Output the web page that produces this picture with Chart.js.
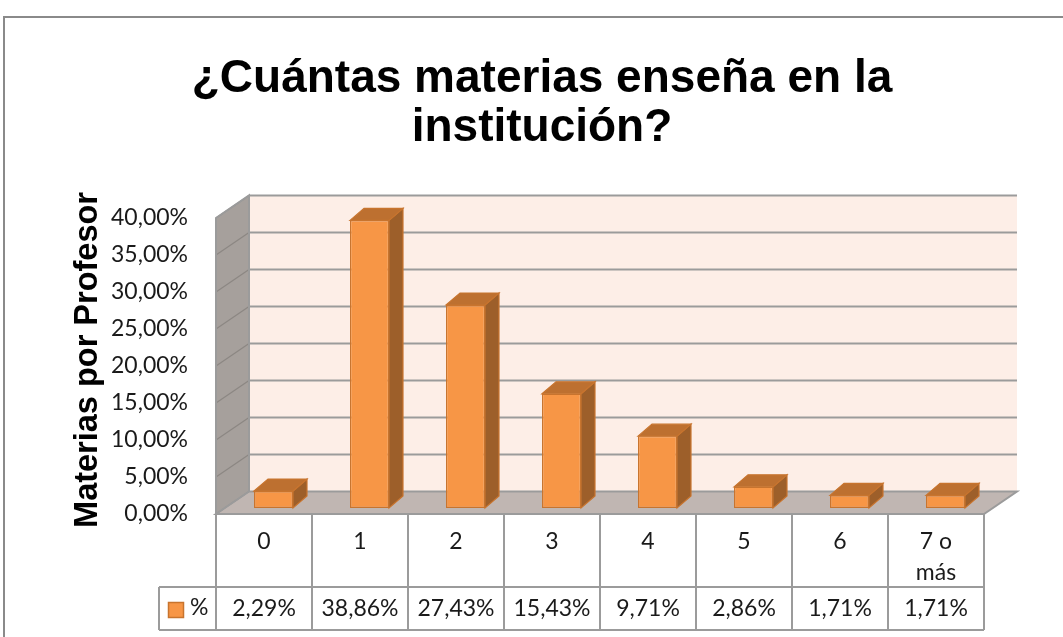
<!DOCTYPE html>
<html>
<head>
<meta charset="utf-8">
<script src="https://cdn.jsdelivr.net/npm/chart.js@4/dist/chart.umd.min.js"></script>
<style>
html,body{margin:0;padding:0;background:#fff;}
#wrap{width:1063px;height:637px;position:relative;}
</style>
</head>
<body>
<div id="wrap"><canvas id="c" width="1063" height="637"></canvas></div>
<script>
// ---- data ----
const categories = ['0', '1', '2', '3', '4', '5', '6', ['7 o', 'más']];
const percentValues = [2.29, 38.86, 27.43, 15.43, 9.71, 2.86, 1.71, 1.71];
const seriesName = '%';
const titleLines = ['¿Cuántas materias enseña en la', 'institución?'];
const yAxisTitle = 'Materias por Profesor';
const yTickValues = [0, 5, 10, 15, 20, 25, 30, 35, 40];

const fmt = v => v.toFixed(2).replace('.', ',') + '%';

// 3D geometry offsets relative to the bar plane
const FRONT = {dx: -9.5, dy: 6};
const BACK = {dx: 23.5, dy: -16.5};
const BAR_DEPTH = {dx: 14, dy: -12};
const GRID = '#9b9b9b';
const TXT_FONT = '23px Lato';

const threeD = {
  id: 'threeD',
  beforeDatasetsDraw(chart) {
    const ctx = chart.ctx, xs = chart.scales.x, ys = chart.scales.y;
    const L = xs.left, R = xs.right, T = ys.top, B = ys.bottom;
    ctx.save();
    // back wall
    ctx.fillStyle = '#fdeee7';
    ctx.fillRect(L + BACK.dx, T + BACK.dy, R - L, B - T);
    // side wall
    ctx.beginPath();
    ctx.moveTo(L + FRONT.dx, B + FRONT.dy);
    ctx.lineTo(L + FRONT.dx, T + FRONT.dy);
    ctx.lineTo(L + BACK.dx, T + BACK.dy);
    ctx.lineTo(L + BACK.dx, B + BACK.dy);
    ctx.closePath();
    ctx.fillStyle = '#a6a09c';
    ctx.fill();
    // floor
    ctx.beginPath();
    ctx.moveTo(L + FRONT.dx, B + FRONT.dy);
    ctx.lineTo(L + BACK.dx, B + BACK.dy);
    ctx.lineTo(R + BACK.dx, B + BACK.dy);
    ctx.lineTo(R + FRONT.dx, B + FRONT.dy);
    ctx.closePath();
    ctx.fillStyle = '#c0b6b2';
    ctx.fill();
    // gridlines on back wall and side wall
    ctx.lineWidth = 2;
    ctx.strokeStyle = GRID;
    yTickValues.forEach(v => {
      const py = ys.getPixelForValue(v);
      if (v > 0) {
        ctx.beginPath();
        ctx.moveTo(L + BACK.dx, py + BACK.dy);
        ctx.lineTo(R + BACK.dx, py + BACK.dy);
        ctx.stroke();
      }
      ctx.save();
      ctx.strokeStyle = '#8c8783';
      ctx.lineWidth = 1.2;
      ctx.beginPath();
      ctx.moveTo(L + FRONT.dx, py + FRONT.dy);
      ctx.lineTo(L + BACK.dx, py + BACK.dy);
      ctx.stroke();
      ctx.restore();
    });
    // wall / floor edges
    ctx.strokeStyle = GRID;
    ctx.lineWidth = 2;
    ctx.beginPath();
    ctx.moveTo(L + FRONT.dx, B + FRONT.dy + 116);
    ctx.lineTo(L + FRONT.dx, T + FRONT.dy);
    ctx.lineTo(L + BACK.dx, T + BACK.dy);
    ctx.lineTo(L + BACK.dx, B + BACK.dy);
    ctx.lineTo(R + BACK.dx, B + BACK.dy);
    ctx.lineTo(R + FRONT.dx, B + FRONT.dy);
    ctx.lineTo(L + FRONT.dx, B + FRONT.dy);
    ctx.lineTo(L + BACK.dx, B + BACK.dy);
    ctx.stroke();
    ctx.restore();
  },
  afterDatasetsDraw(chart) {
    const ctx = chart.ctx, xs = chart.scales.x, ys = chart.scales.y;
    const meta = chart.getDatasetMeta(0);
    ctx.save();
    ctx.lineWidth = 1.2;
    ctx.strokeStyle = '#c8742e';
    meta.data.forEach(bar => {
      const p = bar.getProps(['x', 'y', 'base', 'width'], true);
      const l = p.x - p.width / 2, r = p.x + p.width / 2, t = p.y, b = p.base;
      // side face
      ctx.beginPath();
      ctx.moveTo(r, t);
      ctx.lineTo(r + BAR_DEPTH.dx, t + BAR_DEPTH.dy);
      ctx.lineTo(r + BAR_DEPTH.dx, b + BAR_DEPTH.dy);
      ctx.lineTo(r, b);
      ctx.closePath();
      ctx.fillStyle = '#9d5f2a';
      ctx.fill();
      ctx.stroke();
      // top face
      ctx.beginPath();
      ctx.moveTo(l, t);
      ctx.lineTo(l + BAR_DEPTH.dx, t + BAR_DEPTH.dy);
      ctx.lineTo(r + BAR_DEPTH.dx, t + BAR_DEPTH.dy);
      ctx.lineTo(r, t);
      ctx.closePath();
      ctx.fillStyle = '#bd7030';
      ctx.fill();
      ctx.stroke();
    });
    // data table
    const colW = xs.width / categories.length;
    const x0 = xs.left + FRONT.dx;
    const yTop = ys.bottom + FRONT.dy;
    const yMid = 587, yBot = 630, legL = 159;
    ctx.strokeStyle = GRID;
    ctx.lineWidth = 2;
    ctx.beginPath();
    for (let i = 0; i <= categories.length; i++) {
      const cx = x0 + i * colW;
      ctx.moveTo(cx, yTop);
      ctx.lineTo(cx, yBot);
    }
    ctx.moveTo(legL, yMid); ctx.lineTo(x0 + categories.length * colW, yMid);
    ctx.moveTo(legL, yBot); ctx.lineTo(x0 + categories.length * colW, yBot);
    ctx.moveTo(legL, yMid); ctx.lineTo(legL, yBot);
    ctx.stroke();
    // values
    ctx.fillStyle = '#1a1a1a';
    ctx.font = TXT_FONT;
    ctx.textAlign = 'center';
    ctx.textBaseline = 'middle';
    percentValues.forEach((v, i) => {
      ctx.fillText(fmt(v), x0 + (i + 0.5) * colW, 609);
    });
    // legend key
    ctx.fillStyle = '#f79646';
    ctx.fillRect(168.5, 602.5, 15, 15);
    ctx.strokeStyle = '#c8742e';
    ctx.lineWidth = 1.5;
    ctx.strokeRect(168.5, 602.5, 15, 15);
    ctx.fillStyle = '#1a1a1a';
    ctx.textAlign = 'left';
    ctx.fillText(seriesName, 190, 608);
    // outer frame
    ctx.strokeStyle = '#8a8a8a';
    ctx.lineWidth = 2;
    ctx.beginPath();
    ctx.moveTo(1063, 17);
    ctx.lineTo(4, 17);
    ctx.lineTo(4, 637);
    ctx.stroke();
    ctx.restore();
  }
};

new Chart(document.getElementById('c'), {
  type: 'bar',
  data: {
    labels: categories,
    datasets: [{
      label: seriesName,
      data: percentValues,
      backgroundColor: '#f79646',
      borderColor: '#c8742e',
      borderWidth: 1.2,
      borderSkipped: false,
      barPercentage: 0.406,
      categoryPercentage: 1
    }]
  },
  options: {
    responsive: false,
    animation: false,
    layout: {padding: {left: 90.5, right: 69.5, top: 0, bottom: 0}},
    plugins: {
      legend: {display: false},
      tooltip: {enabled: false},
      title: {
        display: true,
        text: titleLines,
        color: '#000',
        font: {family: 'Liberation Sans', weight: 'bold', size: 46, lineHeight: 1.08},
        padding: {top: 54, bottom: 58.6}
      }
    },
    scales: {
      x: {
        grid: {display: false, drawTicks: false},
        border: {display: false},
        ticks: {
          color: '#1a1a1a',
          font: {family: 'Lato', size: 23, lineHeight: 1.35},
          padding: 18,
          labelOffset: -9.5,
          maxRotation: 0,
          autoSkip: false
        },
        afterFit(s) { s.height = 129; }
      },
      y: {
        min: 0, max: 40,
        grid: {display: false, drawTicks: false},
        border: {display: false},
        ticks: {
          stepSize: 5,
          color: '#1a1a1a',
          font: {family: 'Lato', size: 23},
          padding: 37.5,
          labelOffset: 6,
          callback: v => fmt(v)
        },
        title: {
          display: true,
          text: yAxisTitle,
          color: '#000',
          font: {family: 'Liberation Sans', weight: 'bold', size: 32.5, lineHeight: 1.2},
          padding: {top: -22, bottom: 0}
        },
        afterFit(s) { s.width = 135; }
      }
    }
  },
  plugins: [threeD]
});
</script>
</body>
</html>
